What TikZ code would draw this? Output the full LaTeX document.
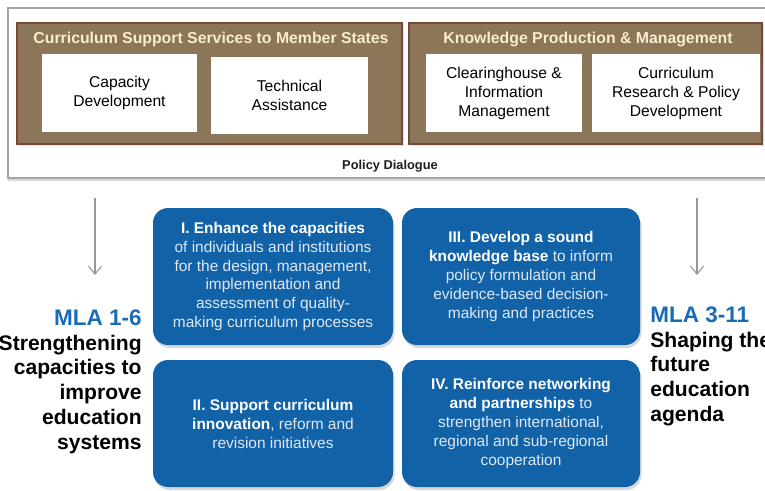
\documentclass[tikz,border=0pt]{standalone}
\usepackage{fontspec}
\setmainfont{Liberation Sans}
\usepackage{xcolor}
\usetikzlibrary{arrows.meta,shadows}

\definecolor{brownfill}{RGB}{140,117,88}
\definecolor{browndraw}{RGB}{118,72,58}
\definecolor{cream}{RGB}{250,236,208}
\definecolor{unblue}{RGB}{18,98,168}
\definecolor{mlablue}{RGB}{24,108,182}
\definecolor{palewhite}{RGB}{222,232,243}
\definecolor{arrowgray}{RGB}{150,150,150}

\begin{document}
\begin{tikzpicture}[scale=1, transform shape,
	brownbox/.style={shape=rectangle, fill=brownfill, draw=browndraw, line width=1.2pt, drop shadow={opacity=0.25, shadow xshift=0.04, shadow yshift=-0.04}},
	whitebox/.style={shape=rectangle, fill=white, align=center, font=\fontsize{8.9}{10.8}\selectfont, drop shadow={opacity=0.2, shadow xshift=0.03, shadow yshift=-0.03}},
	bluebox/.style={shape=rectangle, rounded corners=0.3cm, fill=unblue, align=center, text=palewhite, font=\fontsize{8.8}{10.8}\selectfont, drop shadow={opacity=0.3, shadow xshift=0.03, shadow yshift=-0.06}},
	headtext/.style={font=\bfseries\fontsize{9}{10.8}\selectfont, text=cream},
	mlatext/.style={align=#1, inner sep=0pt, font=\bfseries\fontsize{12}{14.2}\selectfont},
	downarrow/.style={draw=arrowgray, line width=0.6pt, -{Straight Barb[length=1.6mm, width=2.6mm]}}]

	\useasboundingbox (0, 0) rectangle (15.3, 9.8);
	\clip (0, 0) rectangle (15.3, 9.8);

	% Frame, groups and services:
	\node[shape=rectangle, fill=white, draw={rgb,255:red,165;green,165;blue,165}, line width=0.6pt, drop shadow={opacity=0.3, shadow xshift=0.0, shadow yshift=-0.05}, minimum width=15.34cm, minimum height=3.4cm](N1) at (7.83, 7.94){};
	\node[font=\bfseries\fontsize{7.3}{9}\selectfont, text={rgb,255:red,30;green,30;blue,30}](N2) at (7.8, 6.48){Policy Dialogue};
	\node[brownbox, minimum width=7.7cm, minimum height=2.42cm](N3) at (4.19, 8.13){};
	\node[brownbox, minimum width=7.06cm, minimum height=2.42cm](N4) at (11.71, 8.13){};
	\node[headtext](N5) at (4.22, 9.02){Curriculum Support Services to Member States};
	\node[headtext](N6) at (11.76, 9.02){Knowledge Production \& Management};
	\node[whitebox, minimum width=3.1cm, minimum height=1.56cm](N7) at (2.39, 7.94){Capacity\\Development};
	\node[whitebox, minimum width=3.14cm, minimum height=1.54cm](N8) at (5.79, 7.9){Technical\\Assistance};
	\node[whitebox, minimum width=3.12cm, minimum height=1.56cm](N9) at (10.08, 7.94){Clearinghouse \&\\Information\\Management};
	\node[whitebox, minimum width=3.36cm, minimum height=1.56cm](N10) at (13.52, 7.94){Curriculum\\Research \& Policy\\Development};

	% Arrows and MLA labels:
	\coordinate (A1) at (1.9, 5.84);
	\coordinate (A2) at (1.9, 4.3);
	\coordinate (A3) at (13.94, 5.84);
	\coordinate (A4) at (13.94, 4.3);
	\draw[downarrow] (A1) -- (A2);
	\draw[downarrow] (A3) -- (A4);
	\node[mlatext=right, anchor=north east](L1) at (2.84, 3.62){{\color{mlablue}\fontsize{12.8}{14.2}\selectfont MLA 1-6}\\Strengthening\\capacities to\\improve\\education\\systems};
	\node[mlatext=left, anchor=north west](L2) at (13.0, 3.68){{\color{mlablue}\fontsize{12.8}{14.2}\selectfont MLA 3-11}\\Shaping the\\future\\education\\agenda};

	% Objectives:
	\node[bluebox, minimum width=4.8cm, minimum height=2.74cm](B1) at (5.46, 4.27){\textcolor{white}{\textbf{I. Enhance the capacities}}\\of individuals and institutions\\for the design, management,\\implementation and\\assessment of quality-\\making curriculum processes};
	\node[bluebox, minimum width=4.8cm, minimum height=2.54cm](B2) at (5.46, 1.33){\textcolor{white}{\textbf{II. Support curriculum}}\\\textcolor{white}{\textbf{innovation}}, reform and\\revision initiatives};
	\node[bluebox, minimum width=4.76cm, minimum height=2.74cm](B3) at (10.42, 4.27){\textcolor{white}{\textbf{III. Develop a sound}}\\\textcolor{white}{\textbf{knowledge base}} to inform\\policy formulation and\\evidence-based decision-\\making and practices};
	\node[bluebox, minimum width=4.76cm, minimum height=2.54cm](B4) at (10.42, 1.33){\textcolor{white}{\textbf{IV. Reinforce networking}}\\\textcolor{white}{\textbf{and partnerships}} to\\strengthen international,\\regional and sub-regional\\cooperation};

\end{tikzpicture}
\end{document}
